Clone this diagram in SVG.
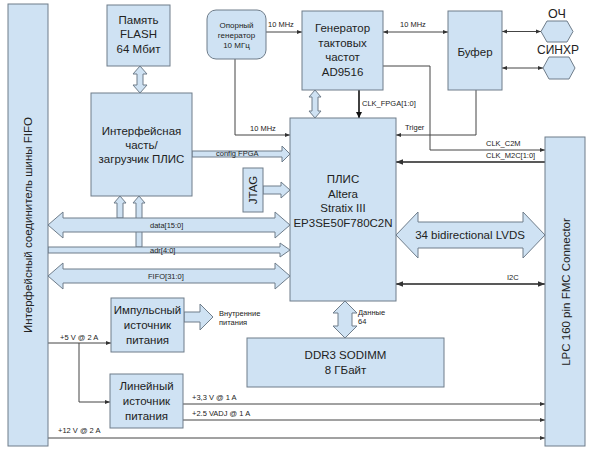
<svg xmlns="http://www.w3.org/2000/svg" width="591" height="450" viewBox="0 0 591 450">
<style>
.box{fill:#cfe2f3;stroke:#6f7d8a;stroke-width:1}
.hol{fill:#cfe2f3;stroke:#6f7d8a;stroke-width:1}
.ln{fill:none;stroke:#444;stroke-width:1}
.t{font-family:"Liberation Sans",Arial,sans-serif;fill:#222;text-anchor:middle}
.b{font-size:11.5px}
.s{font-size:8px}
.sl{font-family:"Liberation Sans",Arial,sans-serif;fill:#222;font-size:7.5px}
</style>
<defs>
<marker id="ah" viewBox="0 0 10 10" refX="10" refY="5" markerWidth="5" markerHeight="5" orient="auto-start-reverse"><path d="M0,1 L10,5 L0,9 Z" fill="#333"/></marker>
<marker id="ahb" viewBox="0 0 10 10" refX="10" refY="5" markerWidth="4" markerHeight="5" orient="auto"><path d="M0,0 L10,5 L0,10 Z" fill="#111"/></marker>
</defs>
<rect width="591" height="450" fill="#fff"/>

<g id="connectors">
  <!-- hollow arrows -->
  <path class="hol" d="M140,66 L147,74 L143,74 L143,85 L147,85 L140,93 L133,85 L137,85 L137,74 L133,74 Z"/>
  <path class="hol" d="M315,90 L321,97 L318,97 L318,111 L321,111 L315,118 L309,111 L312,111 L312,97 L309,97 Z"/>
  <path class="hol" d="M192,151 L282,151 L282,146 L290,154 L282,162 L282,157 L192,157 Z"/>
  <path class="hol" d="M263,186 L281,186 L281,182 L290,190 L281,198 L281,194 L263,194 Z"/>
  <path class="hol" d="M117,218 L117,203 L114,203 L120,196 L126,203 L123,203 L123,218 Z"/>
  <path class="hol" d="M136,247 L136,203 L133,203 L139,196 L145,203 L142,203 L142,247 Z"/>
  <path class="hol" d="M48,225 L63,212 L63,218 L275,218 L275,212 L290,225 L275,238 L275,232 L63,232 L63,238 Z"/>
  <path class="hol" d="M48,247 L280,247 L280,243 L290,250 L280,257 L280,253 L48,253 Z"/>
  <path class="hol" d="M48,276 L63,263 L63,269 L275,269 L275,263 L290,276 L275,289 L275,283 L63,283 L63,289 Z"/>
  <path class="hol" d="M396,235 L418,212 L418,222 L523,222 L523,212 L545,235 L523,258 L523,248 L418,248 L418,258 Z"/>
  <path class="hol" d="M345,301 L357,313 L352,313 L352,326 L357,326 L345,338 L333,326 L338,326 L338,313 L333,313 Z"/>
  <path class="hol" d="M184,312 L200,312 L200,304 L213,317 L200,330 L200,322 L184,322 Z"/>
  <!-- thin lines -->
  <line class="ln" x1="266" y1="32" x2="302" y2="32" marker-end="url(#ah)"/>
  <polyline class="ln" points="235,59 235,135 290,135" marker-end="url(#ah)"/>
  <line class="ln" x1="383" y1="32" x2="448" y2="32" marker-start="url(#ah)" marker-end="url(#ah)"/>
  <line class="ln" x1="502" y1="31.5" x2="541" y2="31.5" marker-start="url(#ah)" marker-end="url(#ah)"/>
  <line class="ln" x1="502" y1="68" x2="543" y2="68" marker-start="url(#ah)" marker-end="url(#ah)"/>
  <line x1="359" y1="90" x2="359" y2="118" stroke="#111" stroke-width="1.6" marker-end="url(#ahb)"/>
  <polyline class="ln" points="383,66 430,66 430,150 545,150" marker-end="url(#ah)"/>
  <polyline class="ln" points="476,90 476,135 396,135" marker-end="url(#ah)"/>
  <line x1="545" y1="162" x2="396" y2="162" stroke="#222" stroke-width="1.4" marker-end="url(#ah)"/>
  <line x1="396" y1="284" x2="545" y2="284" stroke="#222" stroke-width="1.4" marker-start="url(#ah)" marker-end="url(#ah)"/>
  <line class="ln" x1="48" y1="343" x2="111" y2="343" marker-end="url(#ah)"/>
  <polyline class="ln" points="79,343 79,402 110,402" marker-end="url(#ah)"/>
  <line class="ln" x1="183" y1="404" x2="545" y2="404" marker-end="url(#ah)"/>
  <line class="ln" x1="183" y1="420" x2="545" y2="420" marker-end="url(#ah)"/>
  <line class="ln" x1="48" y1="438" x2="545" y2="438" marker-end="url(#ah)"/>
  <!-- labels -->
  <text class="sl" x="268" y="27">10 MHz</text>
  <text class="sl" x="250" y="131">10 MHz</text>
  <text class="sl" x="400" y="27">10 MHz</text>
  <text class="sl" x="362" y="106">CLK_FPGA[1:0]</text>
  <text class="sl" x="405" y="130">Triger</text>
  <text class="sl" x="486" y="146">CLK_C2M</text>
  <text class="sl" x="486" y="158">CLK_M2C[1:0]</text>
  <text class="sl" x="216" y="156">config FPGA</text>
  <text class="sl" x="150" y="228">data[15:0]</text>
  <text class="sl" x="150" y="252.5">adr[4:0]</text>
  <text class="sl" x="148" y="279">FIFO[31:0]</text>
  <text class="t" x="470" y="239" style="font-size:11.5px">34 bidirectional LVDS</text>
  <text class="sl" x="507" y="280">I2C</text>
  <text class="sl" x="358" y="315">Данные</text>
  <text class="sl" x="358" y="324">64</text>
  <text class="sl" x="219" y="316">Внутренние</text>
  <text class="sl" x="219" y="325">питания</text>
  <text class="sl" x="60" y="340">+5 V @ 2 A</text>
  <text class="sl" x="192" y="400">+3,3 V @ 1 A</text>
  <text class="sl" x="192" y="416">+2.5 VADJ @ 1 A</text>
  <text class="sl" x="58" y="433">+12 V @ 2 A</text>
</g>

<g id="fifo-connector">
  <rect class="box" x="8" y="4" width="40" height="442"/>
  <text class="t b" transform="translate(32,225) rotate(-90)">Интерфейсный соединитель шины FIFO</text>
</g>
<g id="flash">
  <rect class="box" x="107" y="5" width="63" height="61"/>
  <text class="t b" x="138.5" y="24">Память</text>
  <text class="t b" x="138.5" y="38">FLASH</text>
  <text class="t b" x="138.5" y="53">64 Мбит</text>
</g>
<g id="interface">
  <rect class="box" x="91" y="93" width="101" height="103"/>
  <text class="t b" x="141.5" y="135">Интерфейсная</text>
  <text class="t b" x="141.5" y="149">часть/</text>
  <text class="t b" x="141.5" y="163">загрузчик ПЛИС</text>
</g>
<g id="ref-gen">
  <rect class="box" x="207" y="10" width="59" height="49" rx="9"/>
  <text class="t s" x="236.5" y="28">Опорный</text>
  <text class="t s" x="236.5" y="38">генератор</text>
  <text class="t s" x="236.5" y="48">10 МГц</text>
</g>
<g id="clock-gen">
  <rect class="box" x="302" y="11" width="81" height="79"/>
  <text class="t b" x="342.5" y="32">Генератор</text>
  <text class="t b" x="342.5" y="47">тактовых</text>
  <text class="t b" x="342.5" y="61">частот</text>
  <text class="t b" x="342.5" y="76">AD9516</text>
</g>
<g id="buffer">
  <rect class="box" x="448" y="11" width="54" height="79"/>
  <text class="t b" x="475" y="56">Буфер</text>
</g>
<g id="och">
  <polygon class="box" points="541,31.5 547,21 567,21 573,31.5 567,42 547,42"/>
  <text class="t" x="557" y="18" style="font-size:12.5px">ОЧ</text>
</g>
<g id="sinhr">
  <polygon class="box" points="543,68 549,57 569,57 575,68 569,79 549,79"/>
  <text class="t" x="558" y="54" style="font-size:12px">СИНХР</text>
</g>
<g id="fpga">
  <rect class="box" x="290" y="118" width="106" height="183"/>
  <text class="t b" x="343" y="183">ПЛИС</text>
  <text class="t b" x="343" y="198">Altera</text>
  <text class="t b" x="343" y="212">Stratix III</text>
  <text class="t b" x="343" y="227">EP3SE50F780C2N</text>
</g>
<g id="jtag">
  <rect class="box" x="243" y="168" width="20" height="44"/>
  <text class="t b" transform="translate(257,190) rotate(-90)">JTAG</text>
</g>
<g id="fmc">
  <rect class="box" x="545" y="137" width="40" height="309"/>
  <text class="t b" transform="translate(570,292) rotate(-90)">LPC 160 pin FMC Connector</text>
</g>
<g id="pulse-psu">
  <rect class="box" x="111" y="298" width="73" height="54"/>
  <text class="t b" x="147.5" y="314">Импульсный</text>
  <text class="t b" x="147.5" y="329">источник</text>
  <text class="t b" x="147.5" y="344">питания</text>
</g>
<g id="linear-psu">
  <rect class="box" x="110" y="374" width="73" height="54"/>
  <text class="t b" x="146.5" y="390">Линейный</text>
  <text class="t b" x="146.5" y="405">источник</text>
  <text class="t b" x="146.5" y="420">питания</text>
</g>
<g id="ddr3">
  <rect class="box" x="247" y="338" width="197" height="49"/>
  <text class="t b" x="345.5" y="359">DDR3 SODIMM</text>
  <text class="t b" x="345.5" y="374">8 ГБайт</text>
</g>
</svg>
